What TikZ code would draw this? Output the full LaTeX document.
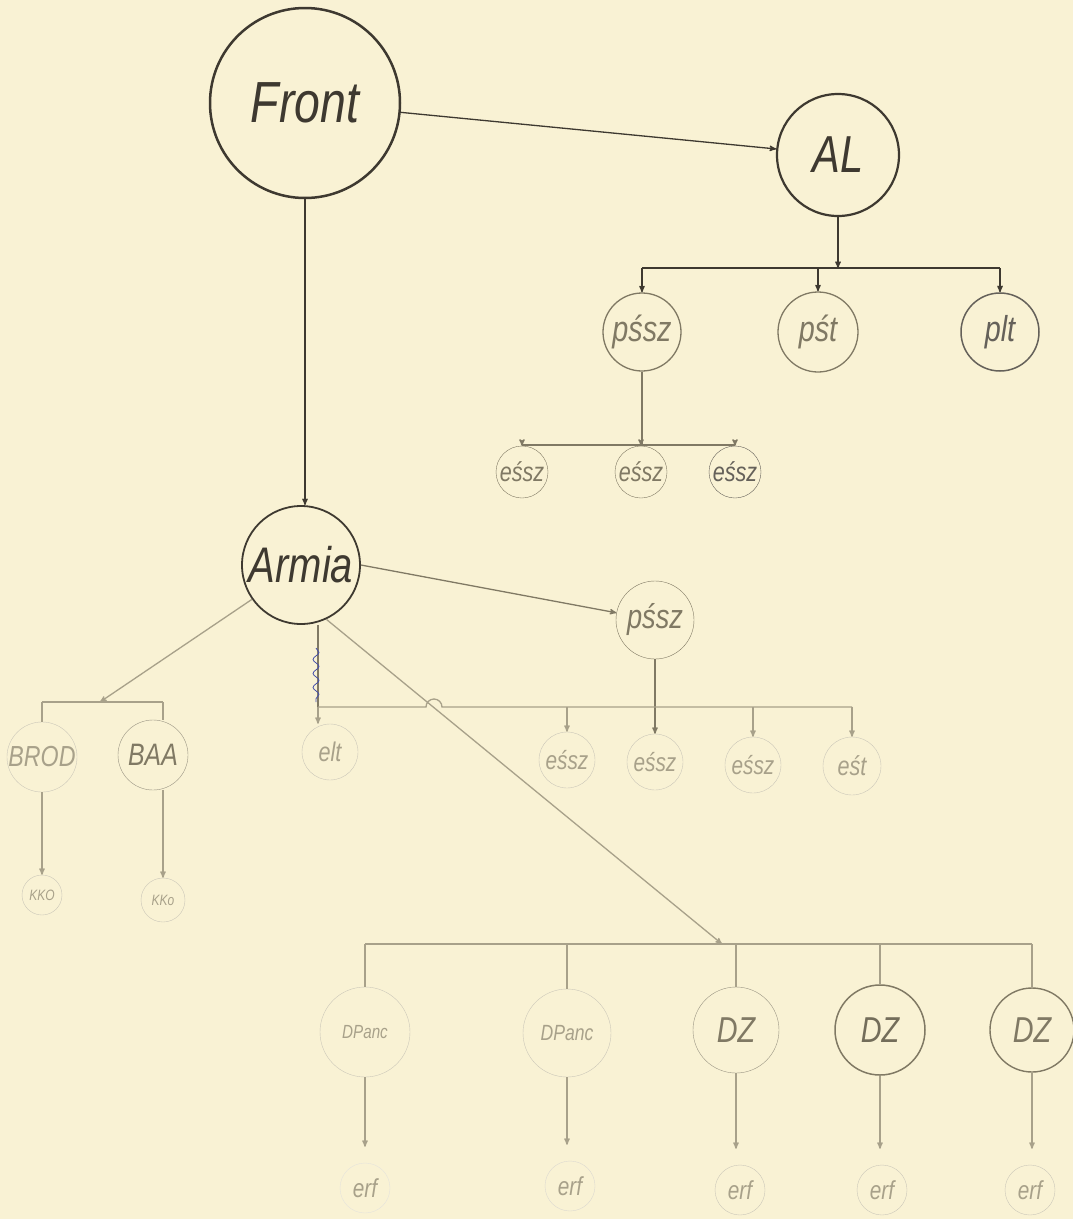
\documentclass[tikz,border=0pt]{standalone}
\usepackage{fontspec}
\newfontfamily\hand[FakeStretch=0.8]{Liberation Sans}
\newcommand\lab[1]{\hand\itshape\fontsize{#1}{#1}\selectfont}
\usetikzlibrary{arrows, positioning, decorations.pathmorphing}
\definecolor{paper}{RGB}{249,242,212}
\definecolor{ink}{RGB}{62,57,48}
\definecolor{faded}{RGB}{128,121,100}
\definecolor{pale}{RGB}{168,161,138}
\definecolor{pen}{RGB}{70,80,170}

\begin{document}
\begin{tikzpicture}[x=1pt, y=-1pt, >=stealth',
  unit/.style={circle, draw, inner sep=0pt},
  link/.style={line width=1.3},
  faint/.style={draw=pale!60, text=pale}]
\fill[paper] (0,0) rectangle (1073,1219);
\useasboundingbox (0,0) rectangle (1073,1219);

% top level
\node[unit, ink, line width=2.5, minimum size=190, font=\lab{58}] (front) at (305,103) {Front};
\node[unit, ink, line width=2.2, minimum size=122, font=\lab{52}] (al) at (838,155) {AL};
\node[unit, ink, line width=1.8, minimum size=118, font=\lab{50}] (armia) at (301,565) {Armia};

% AL branch
\node[unit, faded, line width=1.3, minimum size=78, font=\lab{36}] (pssz) at (642,332) {pśsz};
\node[unit, faded, line width=1.3, minimum size=80, font=\lab{36}] (pst) at (818,332) {pśt};
\node[unit, ink!80, line width=1.5, minimum size=78, font=\lab{36}] (plt) at (1000,332) {plt};
\node[unit, faded, minimum size=52, font=\lab{27}] (e1) at (522,472) {eśsz};
\node[unit, faded, minimum size=52, font=\lab{27}] (e2) at (641,472) {eśsz};
\node[unit, ink!80, minimum size=52, font=\lab{27}] (e3) at (735,472) {eśsz};
\coordinate (albus) at (838,268);
\coordinate (psbus) at (642,445);

\draw[->, link, ink] (front) -- (al);
\draw[->, link, ink] (front.south) -- (front.south |- armia.north);
\draw[->, link, ink] (al) -- (albus);
\draw[link, ink] (pssz.north |- albus) -- (plt.north |- albus);
\foreach \n in {pssz, pst, plt}
  \draw[->, link, ink] (\n.north |- albus) -- (\n);
\draw[link, faded] (pssz) -- (psbus);
\draw[link, faded] (e1.north |- psbus) -- (e3.north |- psbus);
\foreach \n in {e1, e2, e3}
  \draw[->, link, faded] (\n.north |- psbus) -- (\n);

% Armia branch
\node[unit, faded, minimum size=78, font=\lab{34}] (pssz2) at (655,620) {pśsz};
\node[unit, faint, minimum size=56, font=\lab{27}] (elt) at (330,752) {elt};
\node[unit, faint, minimum size=56, font=\lab{26}] (e4) at (567,760) {eśsz};
\node[unit, faint, minimum size=56, font=\lab{26}] (e5) at (655,762) {eśsz};
\node[unit, faint, minimum size=56, font=\lab{26}] (e6) at (753,765) {eśsz};
\node[unit, faint, minimum size=58, font=\lab{27}] (est) at (852,766) {eśt};
\node[unit, faint, minimum size=68, font=\lab{29}] (brod) at (42,757) {BROD};
\node[unit, draw=faded!80, text=faded, minimum size=70, font=\lab{31}] (baa) at (153,755) {BAA};
\node[unit, faint, minimum size=40, font=\lab{15}] (kko1) at (42,895) {KKO};
\node[unit, faint, minimum size=44, font=\lab{15}] (kko2) at (163,900) {KKo};
\coordinate (abus) at (318,707);
\coordinate (lbus) at (100,702);

\draw[->, link, faded] (armia.east) -- (pssz2);
\draw[->, link, faded] (pssz2) -- (e5);
\draw[link, faded] (abus |- armia.south) -- (abus);
\draw[pen, line width=0.8, decorate, decoration={snake, amplitude=3, segment length=14}]
  (316,648) -- (316,702);
\draw[link, pale] (abus) -- (426,707) arc[start angle=180, end angle=360, radius=8]
  -- (est.north |- abus);
\draw[->, link, pale] (abus) -- (abus |- elt.north);
\foreach \n in {e4, e6, est}
  \draw[->, link, pale] (\n.north |- abus) -- (\n);
\draw[->, link, pale] (armia.-145) -- (lbus);
\draw[link, pale] (brod.north |- lbus) -- (kko2.north |- lbus);
\draw[link, pale] (brod.north |- lbus) -- (brod);
\draw[link, pale] (kko2.north |- lbus) -- (kko2 |- baa.north);
\draw[->, link, pale] (brod) -- (kko1);
\draw[->, link, pale] (kko2 |- baa.south) -- (kko2);

% divisions
\node[unit, faint, minimum size=90, font=\lab{19}] (dp1) at (365,1032) {DPanc};
\node[unit, faint, minimum size=88, font=\lab{22}] (dp2) at (567,1033) {DPanc};
\node[unit, draw=faded!80, text=faded, minimum size=86, font=\lab{36}] (dz1) at (736,1030) {DZ};
\node[unit, draw=faded, text=faded!90!black, line width=1.5, minimum size=90, font=\lab{36}] (dz2) at (880,1030) {DZ};
\node[unit, draw=faded, text=faded, line width=1.4, minimum size=84, font=\lab{36}] (dz3) at (1032,1030) {DZ};
\node[unit, draw=pale!30, text=pale, minimum size=50, font=\lab{26}] (r1) at (365,1188) {erf};
\node[unit, draw=pale!40, text=pale, minimum size=50, font=\lab{26}] (r2) at (570,1186) {erf};
\node[unit, faint, minimum size=50, font=\lab{26}] (r3) at (740,1190) {erf};
\node[unit, faint, minimum size=50, font=\lab{26}] (r4) at (882,1190) {erf};
\node[unit, faint, minimum size=50, font=\lab{26}] (r5) at (1030,1190) {erf};
\coordinate (dzbus) at (722,944);

\draw[->, link, pale] (armia.-65) -- (dzbus);
\draw[link, pale] (dp1.north |- dzbus) -- (dz3.north |- dzbus);
\foreach \n in {dp1, dp2, dz1, dz2, dz3}
  \draw[link, pale] (\n.north |- dzbus) -- (\n);
\foreach \d/\r in {dp1/r1, dp2/r2, dz1/r3, dz2/r4, dz3/r5}
  \draw[->, link, pale, shorten >=16] (\d) -- (\d |- \r.north);
\end{tikzpicture}
\end{document}
